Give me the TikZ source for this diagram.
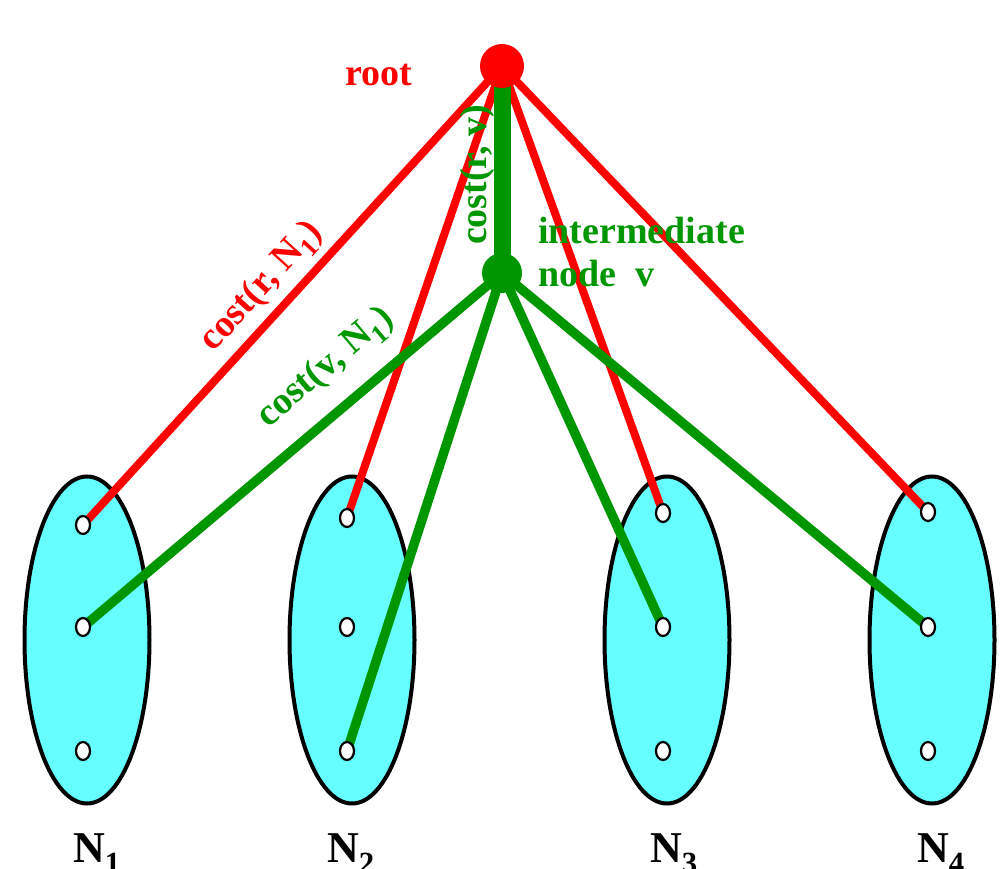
\documentclass[tikz,border=0pt]{standalone}
\usepackage{fontspec}
\setmainfont{Liberation Serif}
\usetikzlibrary{shapes.geometric}
\definecolor{myred}{RGB}{255,0,0}
\definecolor{mygreen}{RGB}{0,150,0}
\definecolor{mycyan}{RGB}{102,255,255}
\begin{document}
\begin{tikzpicture}[x=1pt,y=-1pt,
  setell/.style={ellipse, draw=black, line width=4pt, fill=mycyan, minimum width=125pt, minimum height=327pt, inner sep=0pt},
  pin/.style={ellipse, draw=black, line width=2.2pt, fill=white, minimum width=14pt, minimum height=18pt, inner sep=0pt},
  redline/.style={myred, line width=8pt},
  greenline/.style={mygreen, line width=9.5pt},
  lbl/.style={font=\fontsize{38}{44}\selectfont\bfseries, inner sep=0pt},
  setlbl/.style={font=\fontsize{44}{50}\selectfont\bfseries, inner sep=0pt, anchor=base west},
]
\useasboundingbox (0,0) rectangle (1002,869);
% sets
\node[setell] (e1) at (87,640) {};
\node[setell] (e2) at (352,640) {};
\node[setell] (e3) at (667,640) {};
\node[setell] (e4) at (932,640) {};
% element positions
\coordinate (c11) at (83,525); \coordinate (c12) at (83,627); \coordinate (c13) at (83,751);
\coordinate (c21) at (347,518); \coordinate (c22) at (347,627); \coordinate (c23) at (347,751);
\coordinate (c31) at (663,513); \coordinate (c32) at (663,627); \coordinate (c33) at (663,751);
\coordinate (c41) at (928,512); \coordinate (c42) at (928,627); \coordinate (c43) at (928,751);
\coordinate (r) at (502,66);
\coordinate (vv) at (502,273);
% red edges from root
\draw[redline] (r) -- (c11);
\draw[redline] (r) -- (c21);
\draw[redline] (r) -- (c31);
\draw[redline] (r) -- (c41);
% green edges from v
\draw[greenline] (vv) -- (c12);
\draw[greenline] (vv) -- (c23);
\draw[greenline] (vv) -- (c32);
\draw[greenline] (vv) -- (c42);
\draw[mygreen, line width=17pt] (r) -- (vv);
% root and intermediate node
\node[circle, fill=myred, minimum size=44pt, inner sep=0pt] (root) at (r) {};
\node[circle, fill=mygreen, minimum size=40pt, inner sep=0pt] (v) at (vv) {};
% element dots
\foreach \i in {1,2,3,4}{
  \foreach \j in {1,2,3}{
    \node[pin] (d\i\j) at (c\i\j) {};
  }
}
% labels
\node[lbl, text=myred, anchor=base west] (lroot) at (345,86) {root};
\node[lbl, text=mygreen, anchor=base west] (linter) at (538,244) {intermediate};
\node[lbl, text=mygreen, anchor=base west] (lnode) at (538,287) {node\ \ v};
\node[lbl, text=myred, rotate=47.6] (lrn) at (262,287) {cost(r, N\textsubscript{1})};
\node[lbl, text=mygreen, rotate=40.2] (lvn) at (326,368) {cost(v, N\textsubscript{1})};
\node[lbl, text=mygreen, rotate=90] (lrv) at (477,175) {cost(r, v)};
\node[setlbl] (n1) at (73,862) {N\textsubscript{1}};
\node[setlbl] (n2) at (327,862) {N\textsubscript{2}};
\node[setlbl] (n3) at (650,862) {N\textsubscript{3}};
\node[setlbl] (n4) at (917,862) {N\textsubscript{4}};
\end{tikzpicture}
\end{document}
